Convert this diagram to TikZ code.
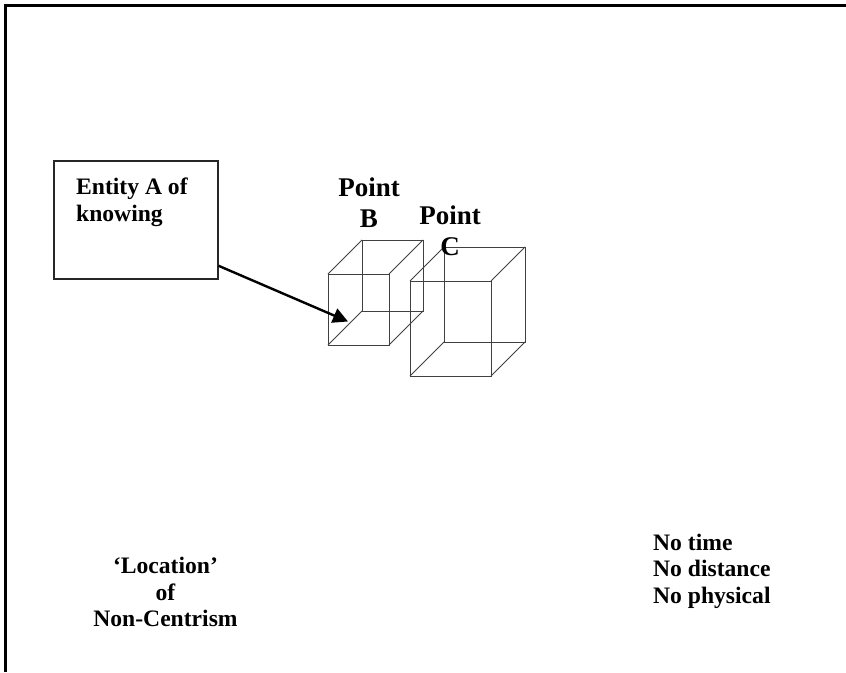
\documentclass[tikz,border=0pt]{standalone}
\usetikzlibrary{arrows.meta}
\usepackage{fontspec}
\setmainfont{Liberation Serif}
\begin{document}
\begin{tikzpicture}[x=1pt,y=-1pt]
    \tikzstyle{frame}=[draw=black,line width=3pt]
    \tikzstyle{entity}=[draw=black!85,line width=1.3pt,minimum width=164pt,minimum height=118pt]
    \tikzstyle{label}=[font=\fontsize{23.6pt}{26.7pt}\selectfont\bfseries,align=left,inner sep=0pt]
    \tikzstyle{point}=[font=\fontsize{27pt}{31pt}\selectfont\bfseries,align=center,inner sep=0pt]
    \tikzstyle{cube}=[draw=black!75,line width=1pt]
    \tikzstyle{edge}=[draw,line width=2.4pt,-{Triangle[length=15pt,width=15pt]}]
    \useasboundingbox (0,0) rectangle (846,672);
    \draw[frame] (5.5,672) -- (5.5,5.5) -- (846,5.5);
    % cube B
    \draw[cube] (328,274) rectangle (389,345);
    \draw[cube] (362,240) rectangle (423,311);
    \draw[cube] (328,274) -- (362,240) (389,274) -- (423,240) (328,345) -- (362,311) (389,345) -- (423,311);
    % cube C
    \draw[cube] (410,281) rectangle (491,376);
    \draw[cube] (444,247) rectangle (525,342);
    \draw[cube] (410,281) -- (444,247) (491,281) -- (525,247) (410,376) -- (444,342) (491,376) -- (525,342);
    \node [entity] (entityA) at (136,220) {};
    \node [label,anchor=north west] (entityText) at (76,178) {Entity A of\\knowing};
    \node [point] (pointB) at (369,203) {Point\\B};
    \node [point] (pointC) at (450,231) {Point\\C};
    \node [label,align=center] (location) at (165.5,592) {‘Location’\\of\\Non-Centrism};
    \node [label,anchor=north west] (nots) at (653,533.5) {No time\\No distance\\No physical};
    \coordinate (tip) at (348,321.5);
    \path[edge] (entityA.-29) -- (tip);
\end{tikzpicture}
\end{document}
